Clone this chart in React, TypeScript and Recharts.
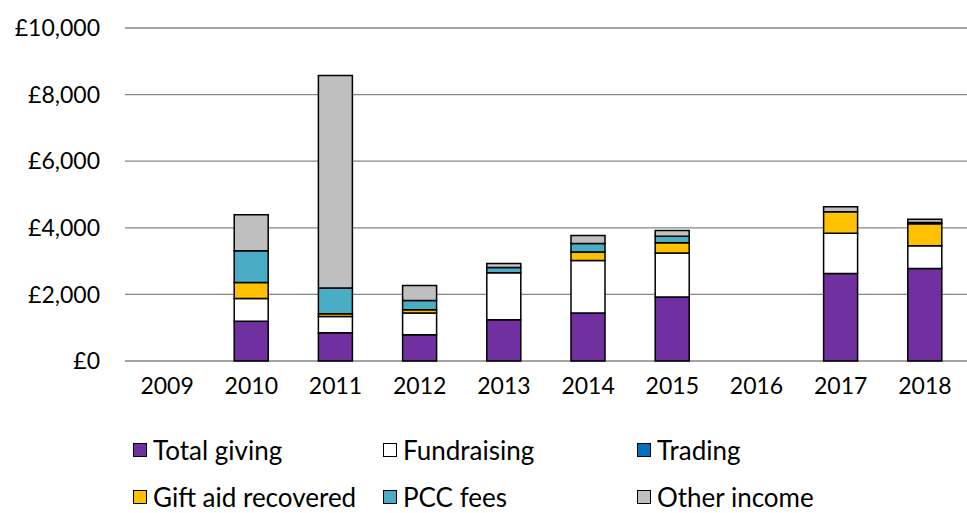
import React from "react"
import { Bar, BarChart, CartesianGrid, XAxis, YAxis } from "recharts"

const years = ["2009", "2010", "2011", "2012", "2013", "2014", "2015", "2016", "2017", "2018"]
const totalGiving = [0, 1190, 850, 790, 1240, 1440, 1920, 0, 2630, 2780]
const fundraising = [0, 690, 490, 650, 1410, 1580, 1320, 0, 1210, 680]
const trading = [0, 0, 0, 0, 0, 0, 0, 0, 0, 0]
const giftAid = [0, 480, 80, 100, 0, 250, 310, 0, 640, 660]
const pccFees = [0, 950, 770, 280, 160, 260, 200, 0, 0, 40]
const otherIncome = [0, 1080, 6380, 450, 120, 240, 170, 0, 150, 100]
const yTicks = [0, 2000, 4000, 6000, 8000, 10000]

const data = years.map((year, i) => ({
  year,
  totalGiving: totalGiving[i],
  fundraising: fundraising[i],
  trading: trading[i],
  giftAid: giftAid[i],
  pccFees: pccFees[i],
  otherIncome: otherIncome[i],
}))

const series = [
  { key: "totalGiving", name: "Total giving", color: "#7030A0" },
  { key: "fundraising", name: "Fundraising", color: "#FFFFFF" },
  { key: "trading", name: "Trading", color: "#0070C0" },
  { key: "giftAid", name: "Gift aid recovered", color: "#FFC000" },
  { key: "pccFees", name: "PCC fees", color: "#4BACC6" },
  { key: "otherIncome", name: "Other income", color: "#BFBFBF" },
]

// legend item placement (Excel-style three columns, two rows)
const legendPos = [
  { left: 133, top: 442 },
  { left: 383, top: 442 },
  { left: 637, top: 442 },
  { left: 133, top: 489 },
  { left: 383, top: 489 },
  { left: 637, top: 489 },
]

const font = "Lato, 'Open Sans', sans-serif"
const fmt = (v: number) => "£" + v.toLocaleString("en-GB")

export default function App() {
  return (
    <div style={{ position: "fixed", left: 0, top: 0, width: 967, height: 513, background: "#fff", fontFamily: font }}>
      <BarChart
        width={967}
        height={513}
        data={data}
        margin={{ top: 28, right: 0, bottom: 122, left: 0 }}
        barSize={34}
      >
        <CartesianGrid vertical={false} stroke="#868686" strokeWidth={1.3} />
        <XAxis
          dataKey="year"
          axisLine={false}
          tickLine={false}
          height={30}
          tickMargin={11}
          tick={{ fill: "#000", fontSize: 23, fontFamily: font }}
        />
        <YAxis
          width={125}
          domain={[0, 10000]}
          ticks={yTicks}
          axisLine={false}
          tickLine={false}
          tickMargin={19}
          tickFormatter={fmt}
          tick={{ fill: "#000", fontSize: 23, fontFamily: font }}
        />
        {series.map((s) => (
          <Bar
            key={s.key}
            dataKey={s.key}
            name={s.name}
            stackId="a"
            fill={s.color}
            stroke="#000"
            strokeWidth={1.5}
            isAnimationActive={false}
          />
        ))}
      </BarChart>
      {series.map((s, i) => (
        <div
          key={s.key}
          style={{
            position: "absolute",
            left: legendPos[i].left,
            top: legendPos[i].top,
            display: "flex",
            alignItems: "center",
            fontSize: 26,
            lineHeight: "16px",
            color: "#000",
            whiteSpace: "nowrap",
          }}
        >
          <span
            style={{
              display: "inline-block",
              width: 12,
              height: 12,
              background: s.color,
              border: "1.5px solid #000",
              marginRight: 6,
            }}
          />
          {s.name}
        </div>
      ))}
    </div>
  )
}
